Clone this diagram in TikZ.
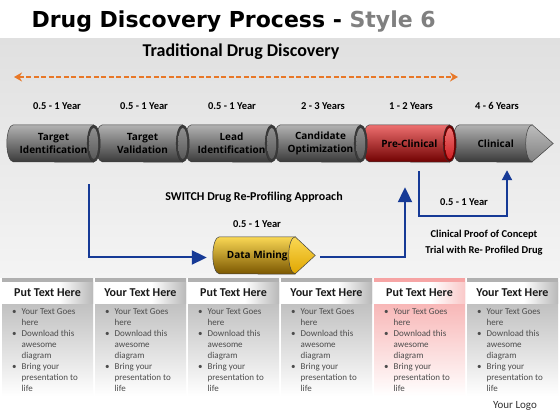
\documentclass[tikz,border=0pt]{standalone}
\usepackage{fontspec}
\setmainfont{Carlito}
\newfontfamily\titlefont{DejaVu Sans}
\newfontfamily\stagefont{Open Sans}
\usepackage{tikz}
\usetikzlibrary{arrows.meta,backgrounds,calc}

\pgfdeclarelayer{bands}
\pgfdeclarelayer{shells}
\pgfsetlayers{bands,shells,main}

\definecolor{flowblue}{RGB}{22,58,150}
\definecolor{tradorange}{RGB}{232,120,40}
\definecolor{bandtop}{RGB}{224,224,224}
\definecolor{bandbot}{RGB}{244,244,244}
\definecolor{greytop}{RGB}{178,178,178}
\definecolor{greymid}{RGB}{128,128,128}
\definecolor{greybot}{RGB}{58,58,58}
\definecolor{redtop}{RGB}{238,112,112}
\definecolor{redmid}{RGB}{206,32,36}
\definecolor{redbot}{RGB}{112,0,0}
\definecolor{goldtop}{RGB}{250,216,84}
\definecolor{goldmid}{RGB}{224,166,0}
\definecolor{goldbot}{RGB}{122,86,0}
\definecolor{pinktop}{RGB}{246,164,164}

\pgfdeclarehorizontalshading{hdrgrey}{100bp}{color(0bp)=(white); color(25bp)=(white); color(56bp)=(white); color(75bp)=(gray!55); color(100bp)=(gray!55)}
\pgfdeclarehorizontalshading{hdrpink}{100bp}{color(0bp)=(white); color(25bp)=(white); color(56bp)=(white); color(75bp)=(pinktop!60); color(100bp)=(pinktop!60)}

\newcommand{\colpoints}{%
\begin{tabular}{@{}l@{\hspace{5pt}}l@{}}
\textbullet & Your Text Goes\\
 & here\\
\textbullet & Download this\\
 & awesome\\
 & diagram\\
\textbullet & Bring your\\
 & presentation to\\
 & life
\end{tabular}}

\begin{document}
\begin{tikzpicture}[x=1pt,y=1pt]
	\tikzstyle{stage} = [rectangle, minimum width=80pt, minimum height=37pt, inner sep=0pt, align=center, font=\stagefont\bfseries\fontsize{10}{12.5}\selectfont]
	\tikzstyle{year} = [font=\bfseries\fontsize{10.5}{12}\selectfont]
	\tikzstyle{greybody} = [draw=black!75, line width=0.5pt, top color=greytop, middle color=greymid, bottom color=greybot]
	\tikzstyle{redbody} = [draw=black!75, line width=0.5pt, top color=redtop, middle color=redmid, bottom color=redbot]
	\tikzstyle{goldbody} = [draw=black!75, line width=0.5pt, top color=goldtop, middle color=goldmid, bottom color=goldbot]
	\tikzstyle{greyrim} = [draw=black!80, line width=0.5pt, fill=greybot]
	\tikzstyle{greyface} = [top color=greytop!80!black, bottom color=greymid!70!black]
	\tikzstyle{redrim} = [draw=black!80, line width=0.5pt, fill=redbot]
	\tikzstyle{redface} = [top color=redtop, bottom color=redmid]
	\tikzstyle{greytip} = [draw=black!75, line width=0.5pt, top color=greytop!85, bottom color=greymid]
	\tikzstyle{goldtip} = [draw=black!75, line width=0.5pt, top color=goldtop, bottom color=goldmid]
	\tikzstyle{colgrey} = [top color=gray!62, middle color=gray!32, bottom color=white]
	\tikzstyle{colpink} = [top color=pinktop, middle color=pinktop!45, bottom color=white]
	\tikzstyle{head} = [font=\bfseries\fontsize{12}{14}\selectfont, text=black!90]
	\tikzstyle{points} = [anchor=north west, inner sep=0pt, text=black!70, font=\fontsize{9}{11.1}\selectfont]
	\tikzstyle{flow} = [draw=flowblue, line width=2pt, -{Triangle[length=15pt,width=14pt]}]
	\tikzstyle{smallflow} = [draw=flowblue, line width=2pt, -{Triangle[length=10pt,width=10pt]}]
	\tikzstyle{trad} = [draw=tradorange, line width=1.6pt, dash pattern=on 5pt off 2.5pt, {Stealth[length=8pt,width=9pt]}-{Stealth[length=8pt,width=9pt]}]
	\useasboundingbox (0,0) rectangle (560,420);

	\node[anchor=base west, font=\titlefont\bfseries\fontsize{22}{26}\selectfont](title) at (28,392){Drug Discovery Process - {\color{gray}Style 6}};
	\node[font=\bfseries\fontsize{18}{21}\selectfont](tradtitle) at (241,368){Traditional Drug Discovery};
	\coordinate (tradleft) at (14,343);
	\coordinate (tradright) at (458,343);
	\node[year](yr1) at (57,314){0.5 - 1 Year};
	\node[year](yr2) at (144,314){0.5 - 1 Year};
	\node[year](yr3) at (232,314){0.5 - 1 Year};
	\node[year](yr4) at (323,314){2 - 3 Years};
	\node[year](yr5) at (411,314){1 - 2 Years};
	\node[year](yr6) at (497,314){4 - 6 Years};

	\node[stage](target) at (53.5,276.5){Target\\Identification};
	\node[stage](valid) at (142.5,276.5){Target\\Validation};
	\node[stage](lead) at (231.5,276.5){Lead\\Identification};
	\node[stage](cand) at (320.5,276.5){Candidate\\Optimization};
	\node[stage](preclin) at (409.5,276.5){Pre-Clinical};
	\node[stage, minimum width=72.5pt](clinical) at (495.75,276.5){Clinical};
	\node[stage, minimum width=75.5pt](mining) at (257.25,164.5){Data Mining};

	\node[font=\bfseries\fontsize{12}{14}\selectfont](switch) at (254,223){SWITCH Drug Re-Profiling Approach};
	\node[year](yrmining) at (257,196){0.5 - 1 Year};
	\node[year](yrpoc) at (464,218){0.5 - 1 Year};
	\node[year, align=center, font=\bfseries\fontsize{10.5}{16}\selectfont](poc) at (484,177){Clinical Proof of Concept\\Trial with Re- Profiled Drug};

	\node[head](hd1) at (47.5,127){Put Text Here};
	\node[head](hd2) at (140.5,127){Your Text Here};
	\node[head](hd3) at (233.5,127){Put Text Here};
	\node[head](hd4) at (326.5,127){Your Text Here};
	\node[head](hd5) at (419.5,127){Put Text Here};
	\node[head](hd6) at (512.5,127){Your Text Here};
	\node[points](pt1) at (12,113.8){\colpoints};
	\node[points](pt2) at (105,113.8){\colpoints};
	\node[points](pt3) at (198,113.8){\colpoints};
	\node[points](pt4) at (291,113.8){\colpoints};
	\node[points](pt5) at (384,113.8){\colpoints};
	\node[points](pt6) at (477,113.8){\colpoints};
	\node[text=black!80, font=\fontsize{11}{13}\selectfont](logo) at (515,14){Your Logo};

	\draw[trad] (tradleft) -- (tradright);
	\draw[flow, shorten >=12.5pt] ([xshift=35.5pt,yshift=-22pt]target.south) |- ([yshift=-2pt]mining.west);
	\draw[flow] ([xshift=25pt,yshift=-1.5pt]mining.east) -| ([xshift=-4.5pt,yshift=-25pt]preclin.south);
	\draw[smallflow] ([xshift=9.5pt,yshift=-9pt]preclin.south) -- ++(0,-45) -| ([xshift=11.25pt,yshift=-8pt]clinical.south);

	\begin{pgfonlayer}{bands}
		\fill[white] (0,0) rectangle (560,420);
		\shade[top color=bandtop, bottom color=bandbot] (0,142) rectangle (560,381);
		\shade[colgrey] (2,24) rectangle (93,141);
		\shade[colgrey] (95,24) rectangle (186,141);
		\shade[colgrey] (188,24) rectangle (279,141);
		\shade[colgrey] (281,24) rectangle (372,141);
		\shade[colpink] (374,24) rectangle (465,141);
		\shade[colgrey] (467,24) rectangle (558,141);
		\shade[shading=hdrgrey] (2,116) rectangle (93,137);
		\shade[shading=hdrgrey] (95,116) rectangle (186,137);
		\shade[shading=hdrgrey] (188,116) rectangle (279,137);
		\shade[shading=hdrgrey] (281,116) rectangle (372,137);
		\shade[shading=hdrpink] (374,116) rectangle (465,137);
		\shade[shading=hdrgrey] (467,116) rectangle (558,137);
	\end{pgfonlayer}

	\begin{pgfonlayer}{shells}
		\path[greybody] (target.north west) arc[start angle=90, end angle=270, x radius=6.5pt, y radius=18.5pt] -- (target.south east) -- (target.north east) -- cycle;
		\path[greybody] (valid.north west) arc[start angle=90, end angle=270, x radius=6.5pt, y radius=18.5pt] -- (valid.south east) -- (valid.north east) -- cycle;
		\path[greybody] (lead.north west) arc[start angle=90, end angle=270, x radius=6.5pt, y radius=18.5pt] -- (lead.south east) -- (lead.north east) -- cycle;
		\path[greybody] (cand.north west) arc[start angle=90, end angle=270, x radius=6.5pt, y radius=18.5pt] -- (cand.south east) -- (cand.north east) -- cycle;
		\path[redbody] (preclin.north west) arc[start angle=90, end angle=270, x radius=6.5pt, y radius=18.5pt] -- (preclin.south east) -- (preclin.north east) -- cycle;
		\path[greybody] (clinical.north west) arc[start angle=90, end angle=270, x radius=6.5pt, y radius=18.5pt] -- (clinical.south east) -- (clinical.north east) -- cycle;
		\path[goldbody] (mining.north west) arc[start angle=90, end angle=270, x radius=6.5pt, y radius=18.5pt] -- (mining.south east) -- (mining.north east) -- cycle;
		% end caps
		\path[greyrim] (target.east) ellipse[x radius=6.5pt, y radius=18.5pt];
		\path[greyface] (target.east) ellipse[x radius=4.5pt, y radius=15.5pt];
		\path[greyrim] (valid.east) ellipse[x radius=6.5pt, y radius=18.5pt];
		\path[greyface] (valid.east) ellipse[x radius=4.5pt, y radius=15.5pt];
		\path[greyrim] (lead.east) ellipse[x radius=6.5pt, y radius=18.5pt];
		\path[greyface] (lead.east) ellipse[x radius=4.5pt, y radius=15.5pt];
		\path[greyrim] (cand.east) ellipse[x radius=6.5pt, y radius=18.5pt];
		\path[greyface] (cand.east) ellipse[x radius=4.5pt, y radius=15.5pt];
		\path[redrim] (preclin.east) ellipse[x radius=6.5pt, y radius=18.5pt];
		\path[redface] (preclin.east) ellipse[x radius=4.5pt, y radius=15.5pt];
		\path[greytip] (clinical.north east) arc[start angle=90, end angle=270, x radius=6.5pt, y radius=18.5pt] -- ([xshift=21pt]clinical.east) -- cycle;
		\path[goldtip] (mining.north east) arc[start angle=90, end angle=270, x radius=6.5pt, y radius=18.5pt] -- ([xshift=20pt]mining.east) -- cycle;
	\end{pgfonlayer}
\end{tikzpicture}
\end{document}
